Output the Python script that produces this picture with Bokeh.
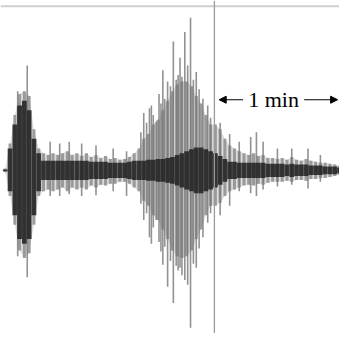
from bokeh.plotting import figure
from bokeh.models import Range1d, Span, Arrow, NormalHead, Label
from bokeh.embed import file_html
from bokeh.resources import INLINE

# Time axis (arbitrary sample columns) and envelope amplitudes (counts)
t = list(range(5, 356, 5))
body_up = [2, 28, 58, 80, 83, 78, 43, 23, 18, 16, 18, 16, 18, 20, 16, 18, 15, 18, 14, 16,
           13, 15, 12, 13, 11, 12, 14, 18, 23, 33, 38, 48, 53, 63, 73, 83, 90, 93, 93, 88,
           78, 70, 58, 48, 48, 43, 33, 26, 23, 20, 18, 16, 18, 15, 16, 13, 13, 12, 13, 11,
           14, 11, 10, 12, 10, 9, 8, 8, 7, 6, 5]
body_dn = [2, 27, 57, 84, 92, 87, 57, 27, 22, 20, 22, 20, 18, 22, 18, 20, 18, 20, 16, 18,
           15, 16, 14, 14, 12, 12, 14, 18, 22, 32, 37, 47, 52, 62, 72, 84, 90, 92, 90, 84,
           72, 62, 47, 37, 37, 34, 27, 22, 20, 18, 16, 15, 16, 14, 15, 13, 12, 12, 12, 11,
           12, 10, 10, 11, 9, 9, 8, 8, 7, 6, 5]
core_up = [1, 23, 48, 68, 73, 63, 33, 18, 10, 10, 10, 10, 10, 10, 10, 10, 10, 10, 9, 9,
           9, 9, 8, 8, 8, 8, 9, 10, 10, 10, 11, 11, 12, 12, 13, 14, 16, 18, 20, 22,
           24, 24, 22, 20, 18, 15, 12, 9, 9, 8, 8, 8, 8, 8, 8, 7, 7, 7, 7, 6,
           7, 6, 6, 6, 5, 5, 5, 4, 4, 4, 3]
core_dn = [1, 22, 47, 72, 77, 72, 47, 22, 10, 10, 10, 10, 10, 10, 10, 10, 10, 10, 9, 9,
           9, 9, 8, 8, 8, 8, 9, 10, 10, 10, 11, 11, 12, 12, 13, 14, 16, 18, 20, 22,
           24, 24, 22, 20, 18, 15, 12, 9, 9, 8, 8, 8, 8, 8, 8, 7, 7, 7, 7, 6,
           7, 6, 6, 6, 5, 5, 5, 4, 4, 4, 3]

# Individual large oscillation peaks
spike_t = [18, 28, 52, 62, 72, 85, 100, 118, 132, 147, 150, 153, 156, 158, 160, 163, 166,
           168, 170, 172, 175, 178, 181, 184, 186, 188, 190, 193, 196, 199, 202, 205, 208,
           212, 217, 220, 230, 240, 250, 262, 268, 275, 290, 305, 322, 335]
spike_up = [83, 110, 30, 28, 30, 28, 26, 23, 20, 40, 60, 50, 65, 68, 58, 51, 80,
            70, 105, 75, 93, 88, 135, 95, 100, 118, 98, 145, 110, 160, 95, 103, 85,
            75, 68, 55, 50, 38, 30, 35, 40, 30, 23, 23, 23, 16]
spike_dn = [90, 112, 27, 27, 25, 27, 26, 22, 27, 35, 52, 45, 70, 77, 60, 52, 75,
            85, 99, 80, 122, 95, 139, 100, 105, 102, 110, 115, 120, 165, 98, 102, 82,
            70, 55, 45, 47, 37, 22, 24, 27, 20, 17, 15, 19, 12]

marker_t = 224
label_text = "1 min"

p = figure(width=339, height=333, output_backend="svg", toolbar_location=None,
           x_range=Range1d(0, 355), y_range=Range1d(-171, 178),
           min_border=0, background_fill_color="white", border_fill_color="white")
p.axis.visible = False
p.grid.visible = False
p.outline_line_color = None

lo_body = [-d for d in body_dn]
# soft halo of the body envelope
p.varea(x=t, y1=lo_body, y2=body_up, fill_color="#b4b4b4", fill_alpha=0.45)
# striated body
p.vbar(x=t, width=3.2, bottom=lo_body, top=body_up,
       fill_color="#8a8a8a", fill_alpha=0.8, line_color=None)
# outer spikes / oscillations
p.segment(x0=spike_t, x1=spike_t, y0=[-d for d in spike_dn], y1=spike_up,
          line_color="#777777", line_width=1.6, line_alpha=0.8)
# dark core
p.vbar(x=t, width=5, bottom=[-d for d in core_dn], top=core_up,
       fill_color="#222222", fill_alpha=0.88, line_color=None)

# top frame line
p.add_layout(Span(location=172, dimension="width", line_color="#cfcfcf", line_width=2))
# marker line
p.add_layout(Span(location=marker_t, dimension="height", line_color="#9a9a9a", line_width=1.3))

# 1 min annotation
ay = 74
p.add_layout(Arrow(x_start=254, y_start=ay, x_end=229, y_end=ay, line_width=1.2,
                   end=NormalHead(size=7, fill_color="black", line_color="black")))
p.add_layout(Arrow(x_start=318, y_start=ay, x_end=353, y_end=ay, line_width=1.2,
                   end=NormalHead(size=7, fill_color="black", line_color="black")))
p.add_layout(Label(x=286, y=ay, text=label_text, text_align="center", text_baseline="middle",
                   text_font="Liberation Serif", text_font_size="22px", text_color="black"))

open("out.html", "w").write(file_html(p, INLINE))
